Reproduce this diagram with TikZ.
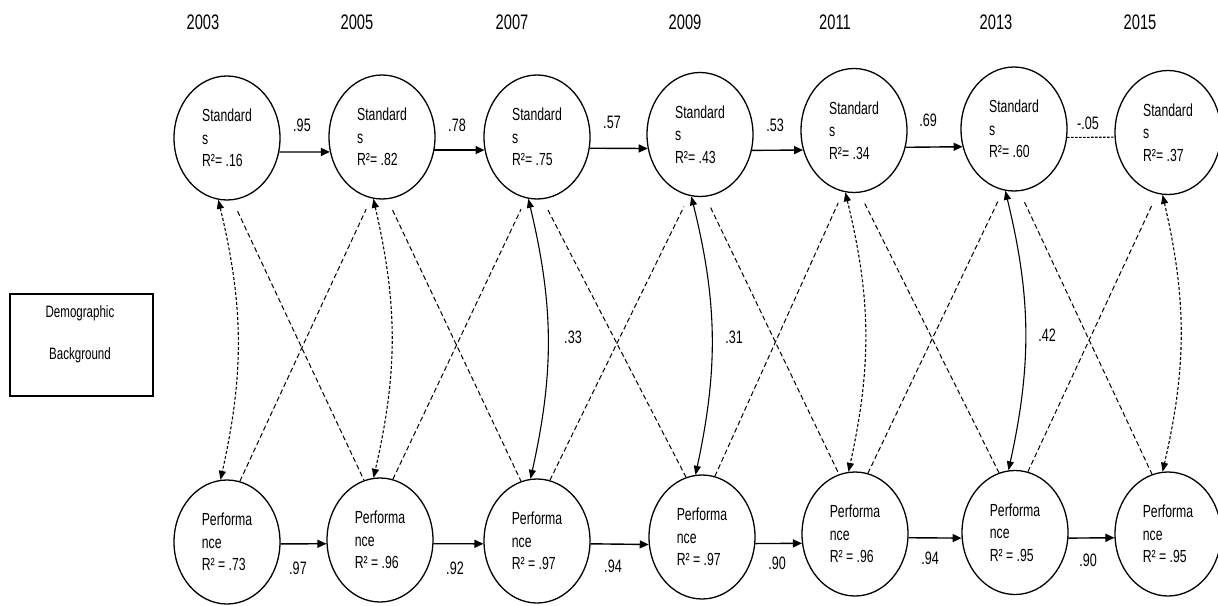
\documentclass[tikz,border=0pt]{standalone}
\usepackage{fontspec}
\setmainfont{Liberation Sans}[FakeStretch=0.7]
\usetikzlibrary{shapes.geometric,arrows.meta}
\tikzset{
  lat/.style={ellipse, draw, line width=1.3pt, minimum width=106pt, minimum height=124pt,
    inner sep=0pt, align=left, font=\fontsize{17.5}{22.5}\selectfont},
  yr/.style={font=\fontsize{21}{24}\selectfont},
  coef/.style={font=\fontsize{18}{20}\selectfont},
  reg/.style={line width=1.4pt, -{Triangle[length=9pt,width=8pt]}},
  cov/.style={line width=1.1pt, {Triangle[length=9pt,width=7pt]}-{Triangle[length=9pt,width=7pt]}},
  covdash/.style={cov, dash pattern=on 3pt off 2pt},
  cross/.style={line width=1pt, dash pattern=on 5pt off 3pt},
  fine/.style={line width=1.1pt, dash pattern=on 2.5pt off 1.5pt},
  demobox/.style={draw, line width=1.3pt, minimum width=143pt, minimum height=102pt, inner sep=0pt},
  demotxt/.style={align=center, font=\fontsize{16.5}{42}\selectfont},
}
\begin{document}
\begin{tikzpicture}[x=1pt,y=-1pt]
\fill[white] (0,0) rectangle (1218,605);
\useasboundingbox (0,0) rectangle (1218,605);

% years
\node[yr] (y1) at (203,22) {2003};
\node[yr] (y2) at (357,22) {2005};
\node[yr] (y3) at (512,22) {2007};
\node[yr] (y4) at (685,22) {2009};
\node[yr] (y5) at (835,22) {2011};
\node[yr] (y6) at (996,22) {2013};
\node[yr] (y7) at (1140,22) {2015};

% standards
\node[lat] (S1) at (227,138) {Standard\\s\\R²= .16};
\node[lat] (S2) at (382,137) {Standard\\s\\R²= .82};
\node[lat] (S3) at (537,137) {Standard\\s\\R²= .75};
\node[lat] (S4) at (700,134.5) {Standard\\s\\R²= .43};
\node[lat] (S5) at (854,130.5) {Standard\\s\\R²= .34};
\node[lat] (S6) at (1014,129) {Standard\\s\\R²= .60};
\node[lat] (S7) at (1168,132.5) {Standard\\s\\R²= .37};

% performance
\node[lat] (P1) at (227,542) {Performa\\nce\\R² = .73};
\node[lat] (P2) at (380,540) {Performa\\nce\\R² = .96};
\node[lat] (P3) at (537,541) {Performa\\nce\\R² = .97};
\node[lat] (P4) at (702,537) {Performa\\nce\\R² = .97};
\node[lat] (P5) at (855,534) {Performa\\nce\\R² = .96};
\node[lat] (P6) at (1015,532.5) {Performa\\nce\\R² = .95};
\node[lat] (P7) at (1168,534) {Performa\\nce\\R² = .95};

% demographic
\node[demobox] (demo) at (81.5,345) {};
\node[demotxt] (demot) at (80,334) {Demographic\\Background};

% top stability paths
\draw[reg] (S1.-15) -- (S2.196);
\draw[reg] (S2.-14) -- (S3.194);
\draw[reg] (S3.-12) -- (S4.195);
\draw[reg] (S4.-17) -- (S5.201);
\draw[reg] (S5.-18) -- (S6.199.5);
\draw[fine] (S6.-9) -- (S7.185);
\node[coef] (c1) at (302,125) {.95};
\node[coef] (c2) at (457,125) {.78};
\node[coef] (c3) at (612,122) {.57};
\node[coef] (c4) at (775,125) {.53};
\node[coef] (c5) at (928,120) {.69};
\node[coef] (c6) at (1088,123) {-.05};

% bottom stability paths
\draw[reg] (P1.-2) -- (P2.184);
\draw[reg] (P2.-4) -- (P3.183);
\draw[reg] (P3.-3) -- (P4.188);
\draw[reg] (P4.-7) -- (P5.190);
\draw[reg] (P5.-4) -- (P6.186);
\draw[reg] (P6.-6) -- (P7.184.5);
\node[coef] (d1) at (298,568) {.97};
\node[coef] (d2) at (455,568) {.92};
\node[coef] (d3) at (613,566) {.94};
\node[coef] (d4) at (777,563) {.90};
\node[coef] (d5) at (930,558) {.94};
\node[coef] (d6) at (1088,560) {.90};

% cross-lagged paths
\foreach \a/\b in {1/2,2/3,3/4,4/5,5/6,6/7}{
  \draw[cross, shorten <=12pt] (S\a.-85) -- (P\b.105);
  \draw[cross, shorten >=12pt] (P\a.78) -- (S\b.-100);
}

% within-time covariances
\draw[covdash] (S1.-98) to[bend left=13] (P1.96);
\draw[covdash] (S2.-98) to[bend left=13] (P2.96);
\draw[cov] (S3.-98) to[bend left=13] (P3.96);
\draw[cov] (S4.-98) to[bend left=13] (P4.96);
\draw[covdash] (S5.-98) to[bend left=13] (P5.96);
\draw[cov] (S6.-98) to[bend left=13] (P6.96);
\draw[covdash] (S7.-95) to[bend left=13] (P7.95);
\node[coef] (e3) at (573,337) {.33};
\node[coef] (e4) at (734,337) {.31};
\node[coef] (e6) at (1047,335) {.42};
\end{tikzpicture}
\end{document}
